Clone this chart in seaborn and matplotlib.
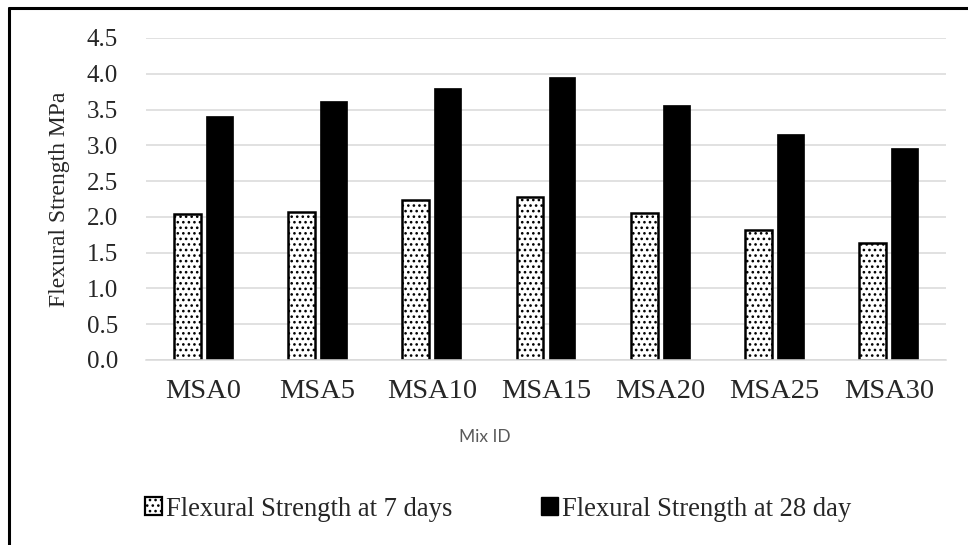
import matplotlib
matplotlib.use("Agg")
import matplotlib.pyplot as plt
from matplotlib.lines import Line2D
from matplotlib.patches import Patch
import pandas as pd
import seaborn as sns

mix_ids = ["MSA0", "MSA5", "MSA10", "MSA15", "MSA20", "MSA25", "MSA30"]
strength_7d = [2.04, 2.07, 2.24, 2.28, 2.06, 1.81, 1.64]
strength_28d = [3.41, 3.62, 3.80, 3.95, 3.57, 3.16, 2.96]
series_names = ["Flexural Strength at 7 days", "Flexural Strength at 28 day"]
y_ticks = [0.0, 0.5, 1.0, 1.5, 2.0, 2.5, 3.0, 3.5, 4.0, 4.5]

df = pd.DataFrame({
    "Mix ID": mix_ids * 2,
    "Strength": strength_7d + strength_28d,
    "Series": [series_names[0]] * len(mix_ids) + [series_names[1]] * len(mix_ids),
})

sns.set_theme(style="white")
serif = "Liberation Serif"
plt.rcParams["hatch.linewidth"] = 1.1

fig = plt.figure(figsize=(9.68, 5.45), dpi=100)
ax = fig.add_axes([146 / 968, 1 - 360 / 545, 800 / 968, 322 / 545])

sns.barplot(data=df, x="Mix ID", y="Strength", hue="Series",
            palette=["white", "black"], width=0.56, gap=0.16,
            edgecolor="black", linewidth=1.8, saturation=1,
            legend=False, ax=ax)

# dotted fill for the 7-day bars
n = len(mix_ids)
for bar in ax.patches[:n]:
    bar.set_hatch("...")
    bar.set_edgecolor("black")
for bar in ax.patches[n:2 * n]:
    bar.set_linewidth(0.5)

ax.set_ylim(0, 4.5)
ax.set_xlim(-0.5, n - 0.5)
ax.set_yticks(y_ticks)
ax.set_yticklabels([f"{t:.1f}" for t in y_ticks], fontfamily=serif, fontsize=18)
ax.set_xticks(range(n))
ax.set_xticklabels(mix_ids, fontfamily=serif, fontsize=20.5)
ax.tick_params(axis="y", length=0, pad=20)
ax.tick_params(axis="x", length=0, pad=14)
ax.yaxis.grid(True, color="#d9d9d9", linewidth=1.1)
ax.set_axisbelow(True)
for side in ["left", "right", "top"]:
    ax.spines[side].set_visible(False)
ax.spines["bottom"].set_color("#d9d9d9")
ax.spines["bottom"].set_linewidth(1.1)

ax.set_ylabel("Flexural Strength MPa", fontfamily=serif, fontsize=17,
              va="center", ha="center")
ax.yaxis.set_label_coords((59 - 146) / 800, 0.5)
ax.set_xlabel("Mix ID", fontfamily="Lato", fontsize=12.5, color="#595959",
              va="center", ha="center")
ax.xaxis.set_label_coords((485 - 146) / 800, (360 - 437) / 322)

handles = [
    Patch(facecolor="white", edgecolor="black", hatch="...", linewidth=1.6),
    Patch(facecolor="black", edgecolor="black"),
]
fig.legend(handles, series_names, loc="center", bbox_to_anchor=(498 / 968, 1 - 509 / 545),
           ncol=2, frameon=False, prop={"family": serif, "size": 19.2},
           handlelength=0.65, handleheight=0.65, handletextpad=0.15, columnspacing=3.3,
           borderpad=0, borderaxespad=0)

# outer frame lines along top and left
fig.add_artist(Line2D([9 / 968, 1], [1 - 7.5 / 545] * 2, color="black", linewidth=2.2,
                      transform=fig.transFigure))
fig.add_artist(Line2D([9 / 968] * 2, [0, 1 - 7.5 / 545], color="black", linewidth=2.2,
                      transform=fig.transFigure))

fig.savefig("out.png", dpi=100)
